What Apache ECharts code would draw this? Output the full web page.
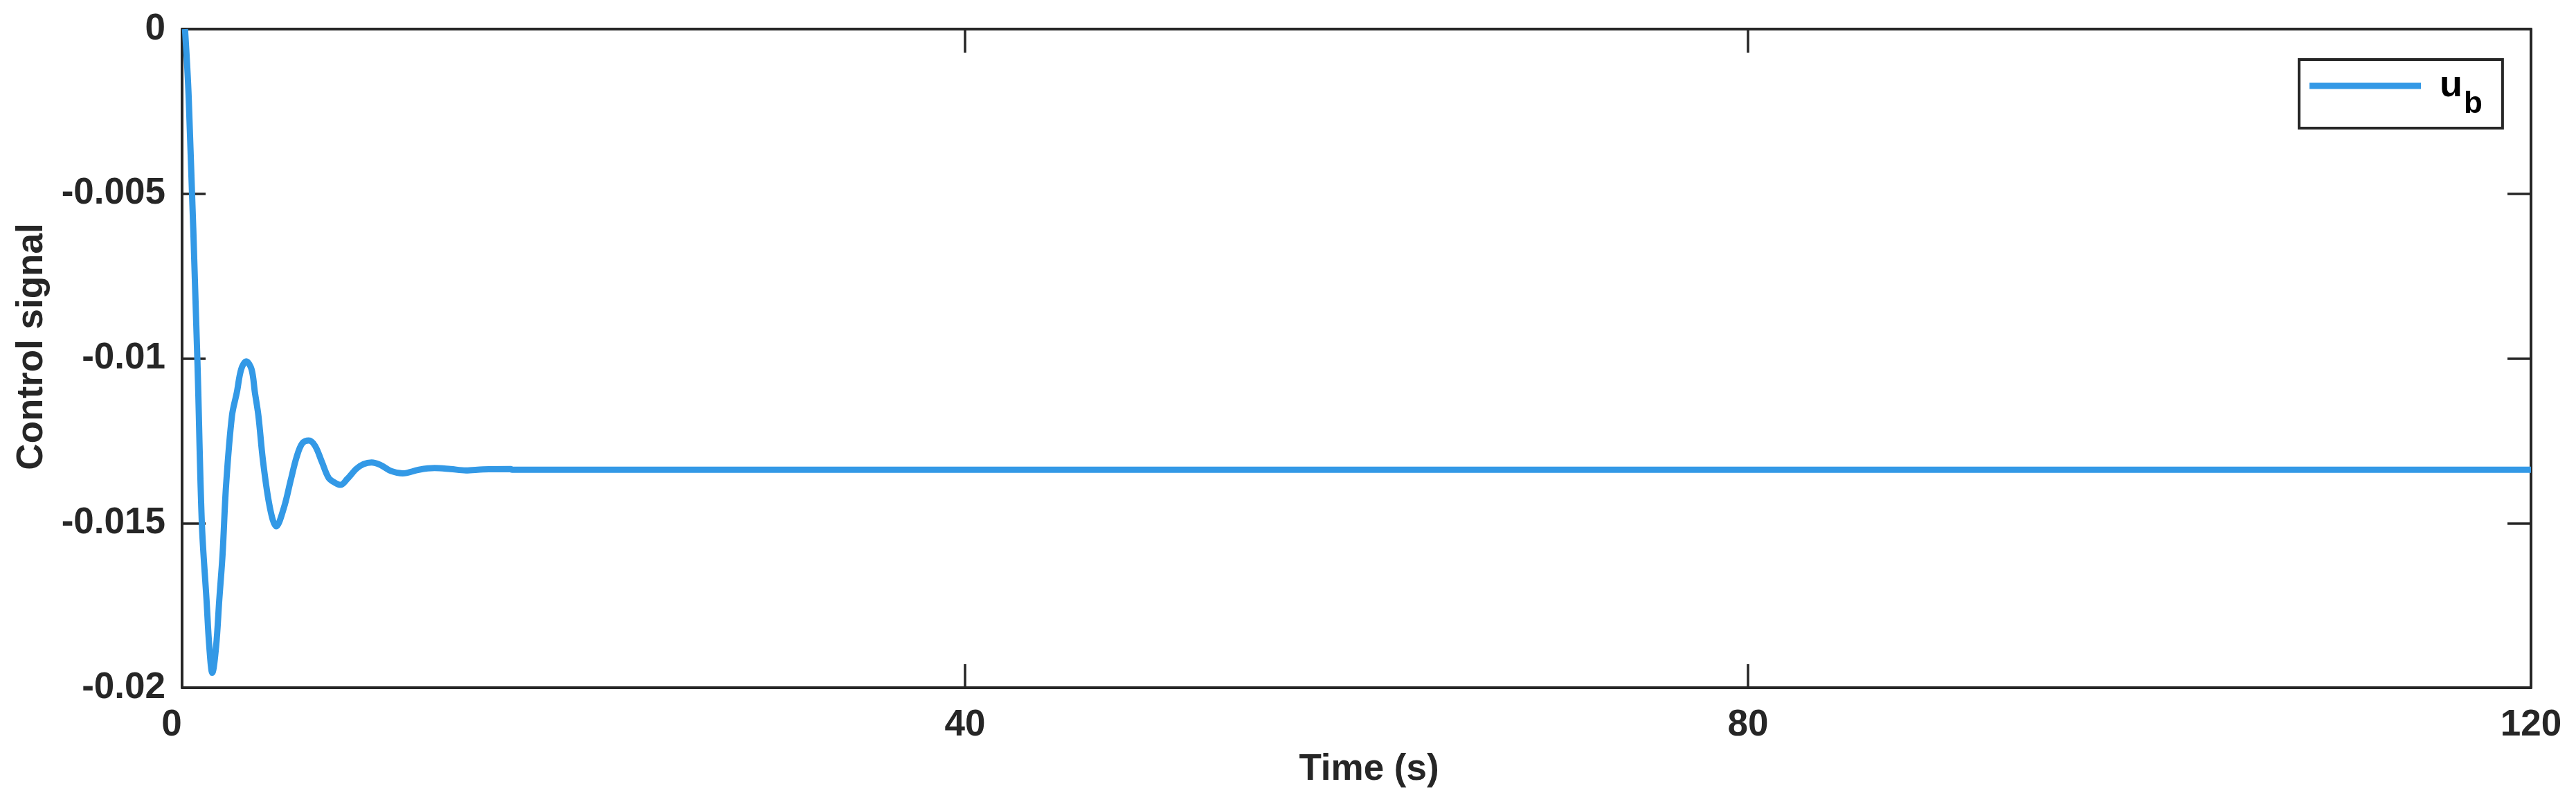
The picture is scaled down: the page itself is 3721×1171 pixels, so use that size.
<!DOCTYPE html>
<html>
<head>
<meta charset="utf-8">
<script src="https://cdn.jsdelivr.net/npm/echarts@6/dist/echarts.min.js"></script>
<style>
html,body{margin:0;padding:0;background:#fff;}
#chart{width:3721px;height:1171px;}
</style>
</head>
<body>
<div id="chart"></div>
<script>
// Time (s) samples
const timeS = [0.15, 0.34, 0.78, 1.01, 1.25, 1.39, 1.545, 1.74, 1.90, 2.07, 2.25, 2.55, 2.80, 3.02, 3.28,
  3.55, 3.72, 3.90, 4.14, 4.49, 4.81, 5.20, 5.55, 5.85, 6.14, 6.47, 6.79, 7.14, 7.49, 7.80, 8.09,
  8.44, 8.91, 9.27, 9.68, 10.15, 10.68, 11.27, 12.10, 12.90, 13.71, 14.50, 15.38, 16.80, 16.85, 120];
// Control signal u_b
const ub = [0, -0.0021, -0.0100, -0.0150, -0.01734, -0.01874, -0.01955, -0.01874, -0.01734, -0.01594,
  -0.01384, -0.01174, -0.01103, -0.01033, -0.01009,
  -0.01033, -0.01103, -0.01174, -0.01314, -0.01454, -0.01510, -0.01454, -0.01370, -0.01300, -0.01258, -0.01249,
  -0.01265, -0.01314, -0.01363, -0.01377, -0.01384,
  -0.01366, -0.01335, -0.01321, -0.01316, -0.01324, -0.01342, -0.01349, -0.01338, -0.01333, -0.01336,
  -0.01340, -0.01337, -0.013361, -0.013382, -0.013382];
const xTicks = [0, 40, 80, 120];
const yTicks = [0, -0.005, -0.01, -0.015, -0.02];
const seriesName = 'u_b';
const xTitle = 'Time (s)';
const yTitle = 'Control signal';

const axisColor = '#262626';
const lineColor = '#3399E6';
const font = "'Liberation Sans', Helvetica, Arial, sans-serif";

const chart = echarts.init(document.getElementById('chart'), null, {renderer: 'canvas'});
const data = timeS.map((t, i) => [t, ub[i]]);

const xBase = {
  type: 'value', min: xTicks[0], max: xTicks[xTicks.length - 1], interval: 40,
  axisLine: {show: true, onZero: false, lineStyle: {color: axisColor, width: 4}},
  axisTick: {show: true, inside: true, length: 34, lineStyle: {color: axisColor, width: 3.5}},
  splitLine: {show: false}
};
const yBase = {
  type: 'value', min: yTicks[yTicks.length - 1], max: yTicks[0], interval: 0.005,
  axisLine: {show: true, onZero: false, lineStyle: {color: axisColor, width: 4}},
  axisTick: {show: true, inside: true, length: 34, lineStyle: {color: axisColor, width: 3.5}},
  splitLine: {show: false}
};

chart.setOption({
  animation: false,
  backgroundColor: '#ffffff',
  grid: {left: 263, top: 42, right: 65, bottom: 178, containLabel: false, outerBoundsMode: 'none'},
  xAxis: [
    Object.assign({}, xBase, {
      position: 'bottom',
      name: xTitle, nameLocation: 'middle', nameGap: 92,
      nameTextStyle: {color: axisColor, fontFamily: font, fontWeight: 'bold', fontSize: 53, padding: [0, 0, 0, 36]},
      axisLabel: {show: true, color: axisColor, fontFamily: font, fontWeight: 'bold', fontSize: 53, margin: 28,
        formatter: v => (v === 0 ? '{z|0}' : String(+v.toFixed(0))),
        rich: {z: {color: axisColor, fontFamily: font, fontWeight: 'bold', fontSize: 53, padding: [0, 30, 0, 0]}}}
    }),
    Object.assign({}, xBase, {position: 'top', axisLabel: {show: false}})
  ],
  yAxis: [
    Object.assign({}, yBase, {
      position: 'left',
      name: yTitle, nameLocation: 'middle', nameGap: 190, nameRotate: 90,
      nameTextStyle: {color: axisColor, fontFamily: font, fontWeight: 'bold', fontSize: 53, padding: [0, 0, 0, 34]},
      axisLabel: {show: true, color: axisColor, fontFamily: font, fontWeight: 'bold', fontSize: 53, margin: 24,
        formatter: v => String(+v.toFixed(3))}
    }),
    Object.assign({}, yBase, {position: 'right', axisLabel: {show: false}})
  ],
  legend: {
    show: true,
    left: 3321, top: 86,
    orient: 'vertical',
    icon: 'rect',
    itemWidth: 161, itemHeight: 9,
    padding: [11, 29, 12, 15],
    borderColor: axisColor, borderWidth: 4, backgroundColor: '#ffffff',
    data: [seriesName],
    formatter: () => '{u|u}{b|b}',
    textStyle: {
      color: '#000',
      rich: {
        u: {fontFamily: font, fontWeight: 'bold', fontSize: 54, lineHeight: 54, verticalAlign: 'top', padding: [0, 0, 0, 22], color: '#000'},
        b: {fontFamily: font, fontWeight: 'bold', fontSize: 44, lineHeight: 44, verticalAlign: 'top', padding: [32, 0, 0, 2], color: '#000'}
      }
    }
  },
  series: [{
    name: seriesName,
    type: 'line',
    xAxisIndex: 0, yAxisIndex: 0,
    data: data,
    showSymbol: false,
    smooth: 0.35,
    clip: true,
    lineStyle: {color: lineColor, width: 9},
    itemStyle: {color: lineColor},
    emphasis: {disabled: true}
  }]
});
</script>
</body>
</html>
